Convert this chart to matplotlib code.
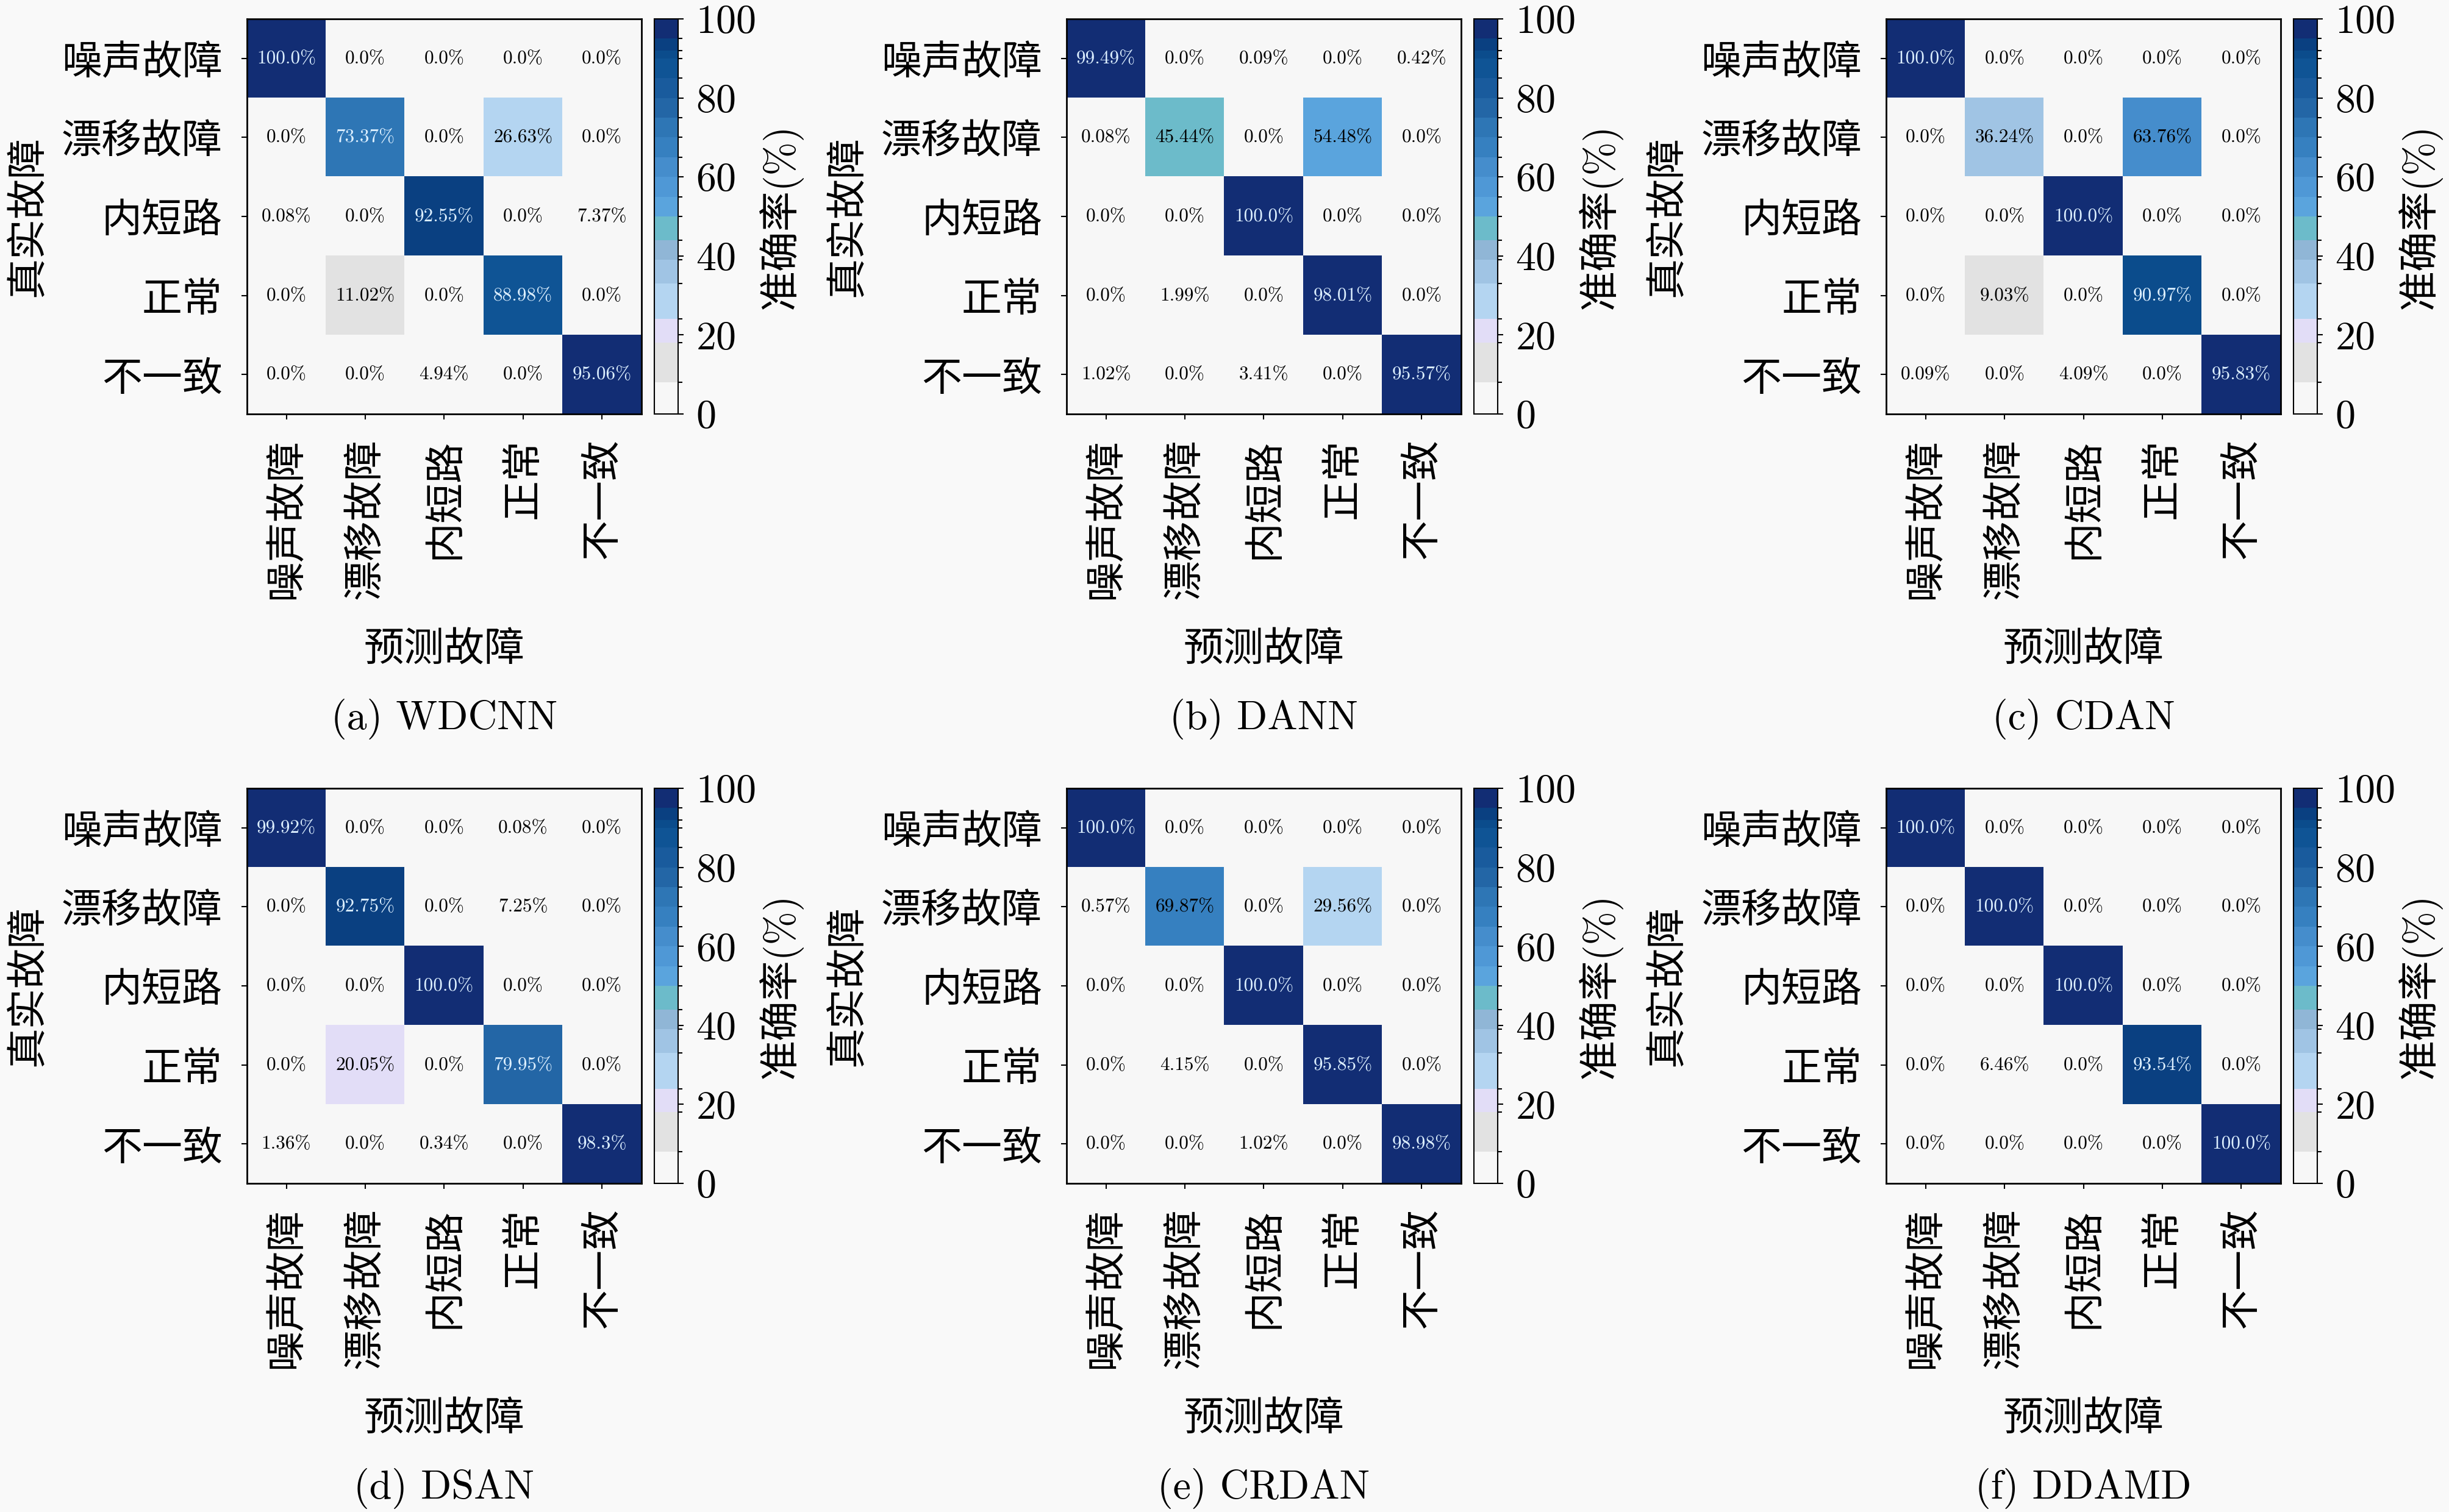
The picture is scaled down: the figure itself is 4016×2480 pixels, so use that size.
import numpy as np
import matplotlib
matplotlib.use("Agg")
import matplotlib.pyplot as plt
from matplotlib.colors import ListedColormap, BoundaryNorm

plt.rcParams['font.family'] = ['cmr10', 'Noto Sans CJK SC']
plt.rcParams['axes.formatter.use_mathtext'] = True
plt.rcParams['axes.unicode_minus'] = False

# 类别名
classes = ['噪声故障', '漂移故障', '内短路', '正常', '不一致']
captions = ['(a) WDCNN', '(b) DANN', '(c) CDAN', '(d) DSAN', '(e) CRDAN', '(f) DDAMD']

# 各模型混淆矩阵（%）
cm_wdcnn = [[100.0, 0.0, 0.0, 0.0, 0.0],
            [0.0, 73.37, 0.0, 26.63, 0.0],
            [0.08, 0.0, 92.55, 0.0, 7.37],
            [0.0, 11.02, 0.0, 88.98, 0.0],
            [0.0, 0.0, 4.94, 0.0, 95.06]]
cm_dann = [[99.49, 0.0, 0.09, 0.0, 0.42],
           [0.08, 45.44, 0.0, 54.48, 0.0],
           [0.0, 0.0, 100.0, 0.0, 0.0],
           [0.0, 1.99, 0.0, 98.01, 0.0],
           [1.02, 0.0, 3.41, 0.0, 95.57]]
cm_cdan = [[100.0, 0.0, 0.0, 0.0, 0.0],
           [0.0, 36.24, 0.0, 63.76, 0.0],
           [0.0, 0.0, 100.0, 0.0, 0.0],
           [0.0, 9.03, 0.0, 90.97, 0.0],
           [0.09, 0.0, 4.09, 0.0, 95.83]]
cm_dsan = [[99.92, 0.0, 0.0, 0.08, 0.0],
           [0.0, 92.75, 0.0, 7.25, 0.0],
           [0.0, 0.0, 100.0, 0.0, 0.0],
           [0.0, 20.05, 0.0, 79.95, 0.0],
           [1.36, 0.0, 0.34, 0.0, 98.3]]
cm_crdan = [[100.0, 0.0, 0.0, 0.0, 0.0],
            [0.57, 69.87, 0.0, 29.56, 0.0],
            [0.0, 0.0, 100.0, 0.0, 0.0],
            [0.0, 4.15, 0.0, 95.85, 0.0],
            [0.0, 0.0, 1.02, 0.0, 98.98]]
cm_ddamd = [[100.0, 0.0, 0.0, 0.0, 0.0],
            [0.0, 100.0, 0.0, 0.0, 0.0],
            [0.0, 0.0, 100.0, 0.0, 0.0],
            [0.0, 6.46, 0.0, 93.54, 0.0],
            [0.0, 0.0, 0.0, 0.0, 100.0]]
matrices = [cm_wdcnn, cm_dann, cm_cdan, cm_dsan, cm_crdan, cm_ddamd]

# 分段色表
bounds = [0, 8, 18, 24, 33, 39, 44, 50, 55, 60, 65, 70, 75, 80, 85, 90, 92, 95, 100]
colors = ['#f7f7f7', '#e2e2e2', '#e2ddf7', '#b4d5f1', '#a0c4e4', '#90b6d6',
          '#6cbbca', '#5aa4dd', '#4f98d6', '#458dcc', '#3680c0', '#2e76b5',
          '#2366a6', '#195b9d', '#0f5495', '#0b4c8c', '#0a4081', '#122d74']
cmap = ListedColormap(colors)
norm = BoundaryNorm(bounds, cmap.N)

cjk = ['Noto Sans CJK SC']
fs = 19

fig = plt.figure(figsize=(16.064, 9.92), dpi=250, facecolor='#f9f9f9')

lefts = [0.1008, 0.4355, 0.7702]
bottoms = [0.7262, 0.2173]
w, h = 0.1611, 0.2613

for k, m in enumerate(matrices):
    m = np.array(m)
    r, c = divmod(k, 3)
    ax = fig.add_axes([lefts[c], bottoms[r], w, h])
    im = ax.imshow(m, cmap=cmap, norm=norm, aspect='auto')
    for i in range(5):
        for j in range(5):
            v = m[i, j]
            col = '#dcefff' if v > 70 else 'black'
            ax.text(j, i, f'{v}%', ha='center', va='center', fontsize=9, color=col)
    ax.set_xticks(range(5))
    ax.set_yticks(range(5))
    ax.set_xticklabels(classes, rotation=90, fontsize=fs, family=cjk)
    ax.set_yticklabels(classes, fontsize=fs, family=cjk)
    ax.tick_params(length=2.5, width=0.6, pad=9)
    for s in ax.spines.values():
        s.set_linewidth(0.8)
    ax.text(0.5, -0.597, '预测故障', transform=ax.transAxes, ha='center', va='center',
            fontsize=fs, family=cjk)
    ax.text(-0.555, 0.5, '真实故障', transform=ax.transAxes, ha='center', va='center',
            rotation=90, fontsize=fs, family=cjk)
    ax.text(0.5, -0.772, captions[k], transform=ax.transAxes, ha='center', va='center',
            fontsize=fs)

    cax = fig.add_axes([lefts[c] + 0.1663, bottoms[r], 0.0097, h])
    cb = fig.colorbar(im, cax=cax, spacing='proportional', ticks=[0, 20, 40, 60, 80, 100])
    cb.ax.tick_params(labelsize=fs, length=2.5, width=0.6, pad=6)
    cb.outline.set_linewidth(0.6)
    cb.ax.text(5.3, 0.5, '准确率(%)', transform=cb.ax.transAxes, ha='center', va='center',
               rotation=90, fontsize=fs)

plt.savefig('out.png', dpi=250, facecolor=fig.get_facecolor())
